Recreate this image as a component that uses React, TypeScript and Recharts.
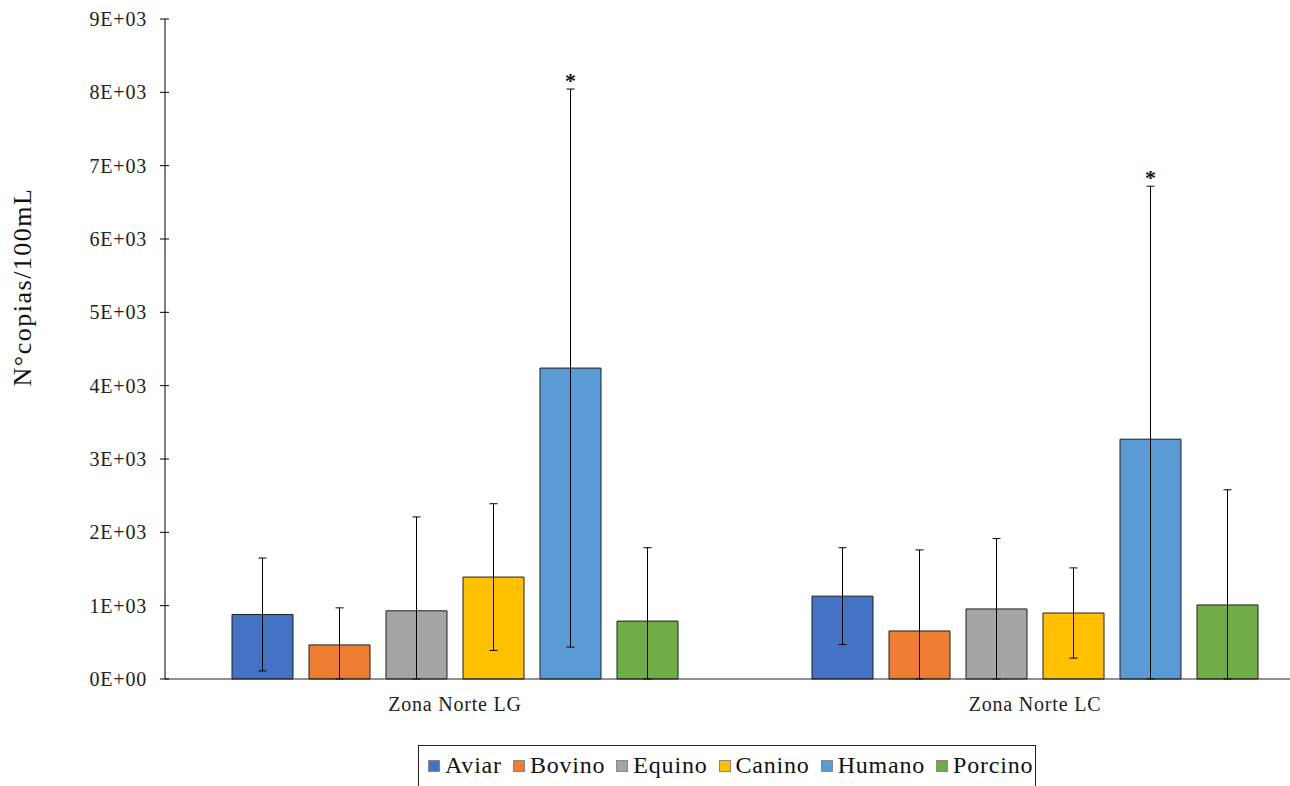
import React from 'react';
import { BarChart, Bar, XAxis, YAxis, ErrorBar, LabelList } from 'recharts';

// zones on the x axis
const zones = ['Zona Norte LG', 'Zona Norte LC'];

// mean copies per 100 mL, one array per source
const aviar = [880, 1130];
const bovino = [465, 655];
const equino = [930, 955];
const canino = [1390, 900];
const humano = [4240, 3270];
const porcino = [790, 1010];

// error bar half-lengths (symmetric, clipped at zero)
const aviarErr = [770, 660];
const bovinoErr = [505, 1105];
const equinoErr = [1280, 960];
const caninoErr = [1000, 615];
const humanoErr = [3805, 3450];
const porcinoErr = [1000, 1570];

const yTicks = [0, 1000, 2000, 3000, 4000, 5000, 6000, 7000, 8000, 9000];

const SERIES = [
  { key: 'Aviar', values: aviar, err: aviarErr, color: '#4472C4' },
  { key: 'Bovino', values: bovino, err: bovinoErr, color: '#ED7D31' },
  { key: 'Equino', values: equino, err: equinoErr, color: '#A5A5A5' },
  { key: 'Canino', values: canino, err: caninoErr, color: '#FFC000' },
  { key: 'Humano', values: humano, err: humanoErr, color: '#5B9BD5' },
  { key: 'Porcino', values: porcino, err: porcinoErr, color: '#70AD47' },
];

// series that carry a significance mark
const starred = ['Humano'];

const rows = zones.map((zone, i) => {
  const row: any = { zone };
  SERIES.forEach((s) => {
    const v = s.values[i];
    const e = s.err[i];
    row[s.key] = v;
    row[s.key + 'Err'] = [Math.min(e, v), e];
  });
  return row;
});

const FONT = "'Liberation Serif', 'DejaVu Serif', 'Noto Serif', serif";

const sci = (n: number) => {
  if (n === 0) return '0E+00';
  const exp = Math.floor(Math.log10(n));
  const mant = Math.round(n / Math.pow(10, exp));
  return `${mant}E+${String(exp).padStart(2, '0')}`;
};

const YTick = (props: any) => {
  const { x, y, payload } = props;
  return (
    <g>
      <line x1={x - 5} x2={x + 4} y1={y} y2={y} stroke="#000" strokeWidth={1} />
      <text
        x={x - 18}
        y={y}
        dy="0.35em"
        textAnchor="end"
        style={{ fontFamily: FONT, letterSpacing: 0.8 }}
        fontSize={20}
        fill="#222"
      >
        {sci(payload.value)}
      </text>
    </g>
  );
};

const makeStar = (key: string) => (props: any) => {
  const vb = props.viewBox ?? props;
  const { x, y, width, height } = vb;
  const d = rows[props.index];
  if (!d || !height) return null;
  const per = height / d[key];
  const top = y + height - (d[key] + d[key + 'Err'][1]) * per;
  return (
    <text x={x + width / 2} y={top - 1} textAnchor="middle" style={{ fontFamily: FONT }} fontSize={22} fontWeight="bold" fill="#111">
      *
    </text>
  );
};

const YLabel = (props: any) => {
  const vb = props.viewBox;
  const cy = vb.y + vb.height / 2 - 62;
  return (
    <text
      x={22}
      y={cy}
      transform={`rotate(-90, 22, ${cy})`}
      textAnchor="middle"
      dominantBaseline="central"
      style={{ fontFamily: FONT, letterSpacing: 1.5 }}
      fontSize={26}
      fill="#111"
    >
      N°copias/100mL
    </text>
  );
};

export default function App() {
  return (
    <div style={{ position: 'absolute', left: 0, top: 0, width: 1290, height: 786, overflow: 'hidden', background: '#fff', fontFamily: FONT }}>
      <BarChart
        width={1340}
        height={786}
        data={rows}
        margin={{ top: 19, right: 15, bottom: 67, left: 0 }}
        barSize={61}
        barGap={16}
        style={{ fontFamily: FONT }}
      >
        <XAxis
          dataKey="zone"
          height={40}
          tickSize={0}
          tickMargin={18}
          axisLine={{ stroke: '#222' }}
          tick={{ fontSize: 20, fill: '#222', style: { fontFamily: FONT, letterSpacing: 0.8 } }}
        />
        <YAxis
          width={165}
          domain={[0, 9000]}
          ticks={yTicks}
          interval={0}
          tickSize={0}
          tickMargin={0}
          tickLine={false}
          axisLine={{ stroke: '#000' }}
          tick={<YTick />}
          label={<YLabel />}
        />
        {SERIES.map((s) => (
          <Bar key={s.key} dataKey={s.key} fill={s.color} stroke="#1e1e1e" strokeWidth={1} isAnimationActive={false}>
            <ErrorBar dataKey={s.key + 'Err'} width={4} stroke="#000" strokeWidth={1} direction="y" />
            {starred.includes(s.key) && <LabelList dataKey={s.key} content={makeStar(s.key)} />}
          </Bar>
        ))}
      </BarChart>
      <div
        style={{
          position: 'absolute',
          left: 418,
          top: 745,
          width: 618,
          height: 60,
          border: '1px solid #222',
          boxSizing: 'border-box',
          display: 'flex',
          alignItems: 'flex-start',
          paddingTop: 6,
          paddingLeft: 9,
          fontSize: 24,
          letterSpacing: 0.8,
          color: '#111',
          whiteSpace: 'nowrap',
        }}
      >
        {SERIES.map((s) => (
          <div key={s.key} style={{ display: 'flex', alignItems: 'center', marginRight: 11 }}>
            <span
              style={{
                display: 'inline-block',
                width: 12,
                height: 12,
                background: s.color,
                border: '1px solid #888',
                boxSizing: 'border-box',
                marginRight: 5,
              }}
            />
            <span>{s.key}</span>
          </div>
        ))}
      </div>
    </div>
  );
}
